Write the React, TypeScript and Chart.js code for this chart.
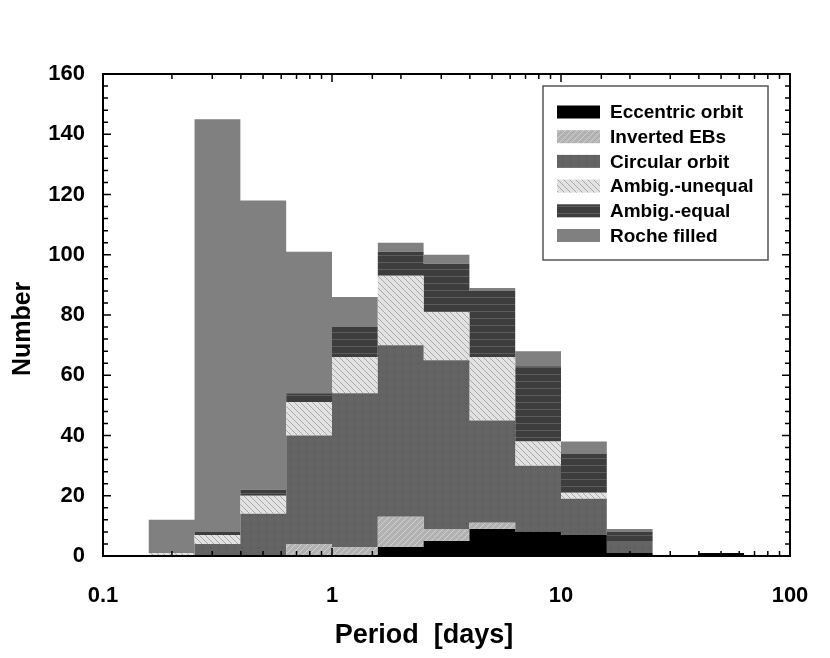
import { useEffect, useRef } from "react";
import Chart from "chart.js/auto";

// bin edges of the period histogram (days), 5 bins per decade
const binEdges = [0.158, 0.251, 0.398, 0.631, 1, 1.585, 2.512, 3.981, 6.31, 10, 15.85, 25.12, 39.81, 63.1];

// counts per bin, bottom layer first
const eccentric = [0, 0, 0, 0, 0, 3, 5, 9, 8, 7, 1, 0, 1];
const inverted = [0, 0, 0, 4, 3, 10, 4, 2, 0, 0, 0, 0, 0];
const circular = [0, 4, 14, 36, 51, 57, 56, 34, 22, 12, 4, 0, 0];
const ambigUnequal = [1, 3, 6, 11, 12, 23, 16, 21, 8, 2, 0, 0, 0];
const ambigEqual = [0, 1, 2, 3, 10, 8, 16, 22, 25, 13, 3, 0, 0];
const rocheFilled = [11, 137, 96, 47, 10, 3, 3, 1, 5, 4, 1, 0, 0];

const seriesNames = ["Eccentric orbit", "Inverted EBs", "Circular orbit", "Ambig.-unequal", "Ambig.-equal", "Roche filled"];
const xTickLabels = [0.1, 1, 10, 100];
const yTickLabels = [0, 20, 40, 60, 80, 100, 120, 140, 160];

const FONT = '"Liberation Sans", Arial, sans-serif';

function makePattern(kind: string): CanvasPattern | string {
  const c = document.createElement("canvas");
  const g = c.getContext("2d");
  if (!g) return "#888";
  if (kind === "inverted" || kind === "unequal") {
    c.width = 6;
    c.height = 6;
    g.fillStyle = kind === "inverted" ? "#b2b2b2" : "#e2e2e2";
    g.fillRect(0, 0, 6, 6);
    g.strokeStyle = kind === "inverted" ? "#d0d0d0" : "#a8a8a8";
    g.lineWidth = 1;
    g.beginPath();
    if (kind === "inverted") {
      g.moveTo(-1, 7); g.lineTo(7, -1);
      g.moveTo(-1, 1); g.lineTo(1, -1);
      g.moveTo(5, 7); g.lineTo(7, 5);
    } else {
      g.moveTo(-1, -1); g.lineTo(7, 7);
      g.moveTo(5, -1); g.lineTo(7, 1);
      g.moveTo(-1, 5); g.lineTo(1, 7);
    }
    g.stroke();
  } else if (kind === "circular") {
    c.width = 8;
    c.height = 8;
    g.fillStyle = "#636363";
    g.fillRect(0, 0, 8, 8);
    g.fillStyle = "#4c4c4c";
    g.fillRect(2, 3, 1, 1);
    g.fillStyle = "#6b6b6b";
    g.fillRect(6, 7, 1, 1);
  } else if (kind === "equal") {
    c.width = 4;
    c.height = 7;
    g.fillStyle = "#3d3d3d";
    g.fillRect(0, 0, 4, 7);
    g.fillStyle = "#5c5c5c";
    g.fillRect(0, 3, 4, 1);
  }
  const p = g.createPattern(c, "repeat");
  return p || "#888";
}

const frameAndTicks = {
  id: "frameAndTicks",
  afterDraw(chart: any) {
    const { ctx, chartArea } = chart;
    const xs = chart.scales.x;
    const ys = chart.scales.y;
    ctx.save();
    ctx.strokeStyle = "#000";
    ctx.lineWidth = 1.5;
    ctx.beginPath();
    xs.ticks.forEach((t: any) => {
      const px = xs.getPixelForValue(t.value);
      const l10 = Math.log10(t.value);
      const len = Math.abs(l10 - Math.round(l10)) < 1e-6 ? 8 : 5;
      ctx.moveTo(px, chartArea.bottom);
      ctx.lineTo(px, chartArea.bottom - len);
      ctx.moveTo(px, chartArea.top);
      ctx.lineTo(px, chartArea.top + len);
    });
    ys.ticks.forEach((t: any) => {
      const py = ys.getPixelForValue(t.value);
      const len = yTickLabels.includes(t.value) ? 8 : 5;
      ctx.moveTo(chartArea.left, py);
      ctx.lineTo(chartArea.left + len, py);
      ctx.moveTo(chartArea.right, py);
      ctx.lineTo(chartArea.right - len, py);
    });
    ctx.stroke();
    ctx.lineWidth = 2;
    ctx.strokeRect(chartArea.left, chartArea.top, chartArea.right - chartArea.left, chartArea.bottom - chartArea.top);

    // legend box inside the plot
    const bx = chartArea.right - 247;
    const by = chartArea.top + 12;
    ctx.fillStyle = "#fff";
    ctx.fillRect(bx, by, 225, 174);
    ctx.strokeStyle = "#555";
    ctx.lineWidth = 1.5;
    ctx.strokeRect(bx, by, 225, 174);
    ctx.font = "bold 19px " + FONT;
    ctx.textBaseline = "middle";
    ctx.textAlign = "left";
    chart.data.datasets.forEach((ds: any, i: number) => {
      const cy = by + 26 + i * 24.7;
      ctx.fillStyle = ds.backgroundColor;
      ctx.fillRect(bx + 14, cy - 6.5, 43, 13);
      ctx.fillStyle = "#000";
      ctx.fillText(ds.label, bx + 67, cy + 1);
    });
    ctx.restore();
  },
};

export default function App() {
  const canvasRef = useRef<HTMLCanvasElement | null>(null);

  useEffect(() => {
    document.body.style.margin = "0";
    if (!canvasRef.current) return;
    const ctx = canvasRef.current.getContext("2d");
    if (!ctx) return;

    const layers = [eccentric, inverted, circular, ambigUnequal, ambigEqual, rocheFilled];
    const fills: (CanvasPattern | string)[] = [
      "#000",
      makePattern("inverted"),
      makePattern("circular"),
      makePattern("unequal"),
      makePattern("equal"),
      "#808080",
    ];

    const datasets = layers.map((vals, k) => ({
      label: seriesNames[k],
      data: binEdges.map((x, i) => ({ x, y: vals[Math.min(i, vals.length - 1)] })),
      stepped: "before" as const,
      fill: k === 0 ? "origin" : "-1",
      backgroundColor: fills[k],
      borderColor: "rgba(0,0,0,0)",
      borderWidth: 0,
      pointRadius: 0,
    }));

    const chart = new Chart(ctx, {
      type: "line",
      data: { datasets },
      options: {
        animation: false,
        responsive: true,
        maintainAspectRatio: false,
        events: [],
        layout: { padding: { top: 74, right: 40, left: 0, bottom: 0 } },
        plugins: { legend: { display: false }, tooltip: { enabled: false } },
        scales: {
          x: {
            type: "logarithmic",
            min: 0.1,
            max: 100,
            grid: { display: false, drawTicks: false },
            border: { display: false },
            ticks: {
              autoSkip: false,
              maxRotation: 0,
              padding: 10,
              color: "#000",
              font: { family: FONT, size: 22, weight: "bold", lineHeight: 2.75 },
              callback: (v: any) => (xTickLabels.includes(Number(v)) ? String(v) : ""),
            },
            title: {
              display: true,
              text: "Period  [days]      ",
              color: "#000",
              font: { family: FONT, size: 27, weight: "bold" },
              padding: { top: 0, bottom: 6 },
            },
            afterFit: (s: any) => {
              s.height = 102;
            },
          },
          y: {
            stacked: true,
            min: 0,
            max: 160,
            grid: { display: false, drawTicks: false },
            border: { display: false },
            ticks: {
              stepSize: 4,
              maxTicksLimit: 100,
              autoSkip: false,
              padding: 18,
              color: "#000",
              font: { family: FONT, size: 22, weight: "bold" },
              callback: (v: any) => (yTickLabels.includes(Number(v)) ? String(v) : ""),
            },
            title: {
              display: true,
              text: "Number    ",
              color: "#000",
              font: { family: FONT, size: 25, weight: "bold" },
              padding: { top: 8, bottom: 0 },
            },
            afterFit: (s: any) => {
              s.width = 103;
            },
          },
        },
      },
      plugins: [frameAndTicks],
    });

    return () => {
      chart.destroy();
    };
  }, []);

  return (
    <div style={{ width: 830, height: 658, position: "relative", background: "#fff" }}>
      <canvas ref={canvasRef}></canvas>
    </div>
  );
}
